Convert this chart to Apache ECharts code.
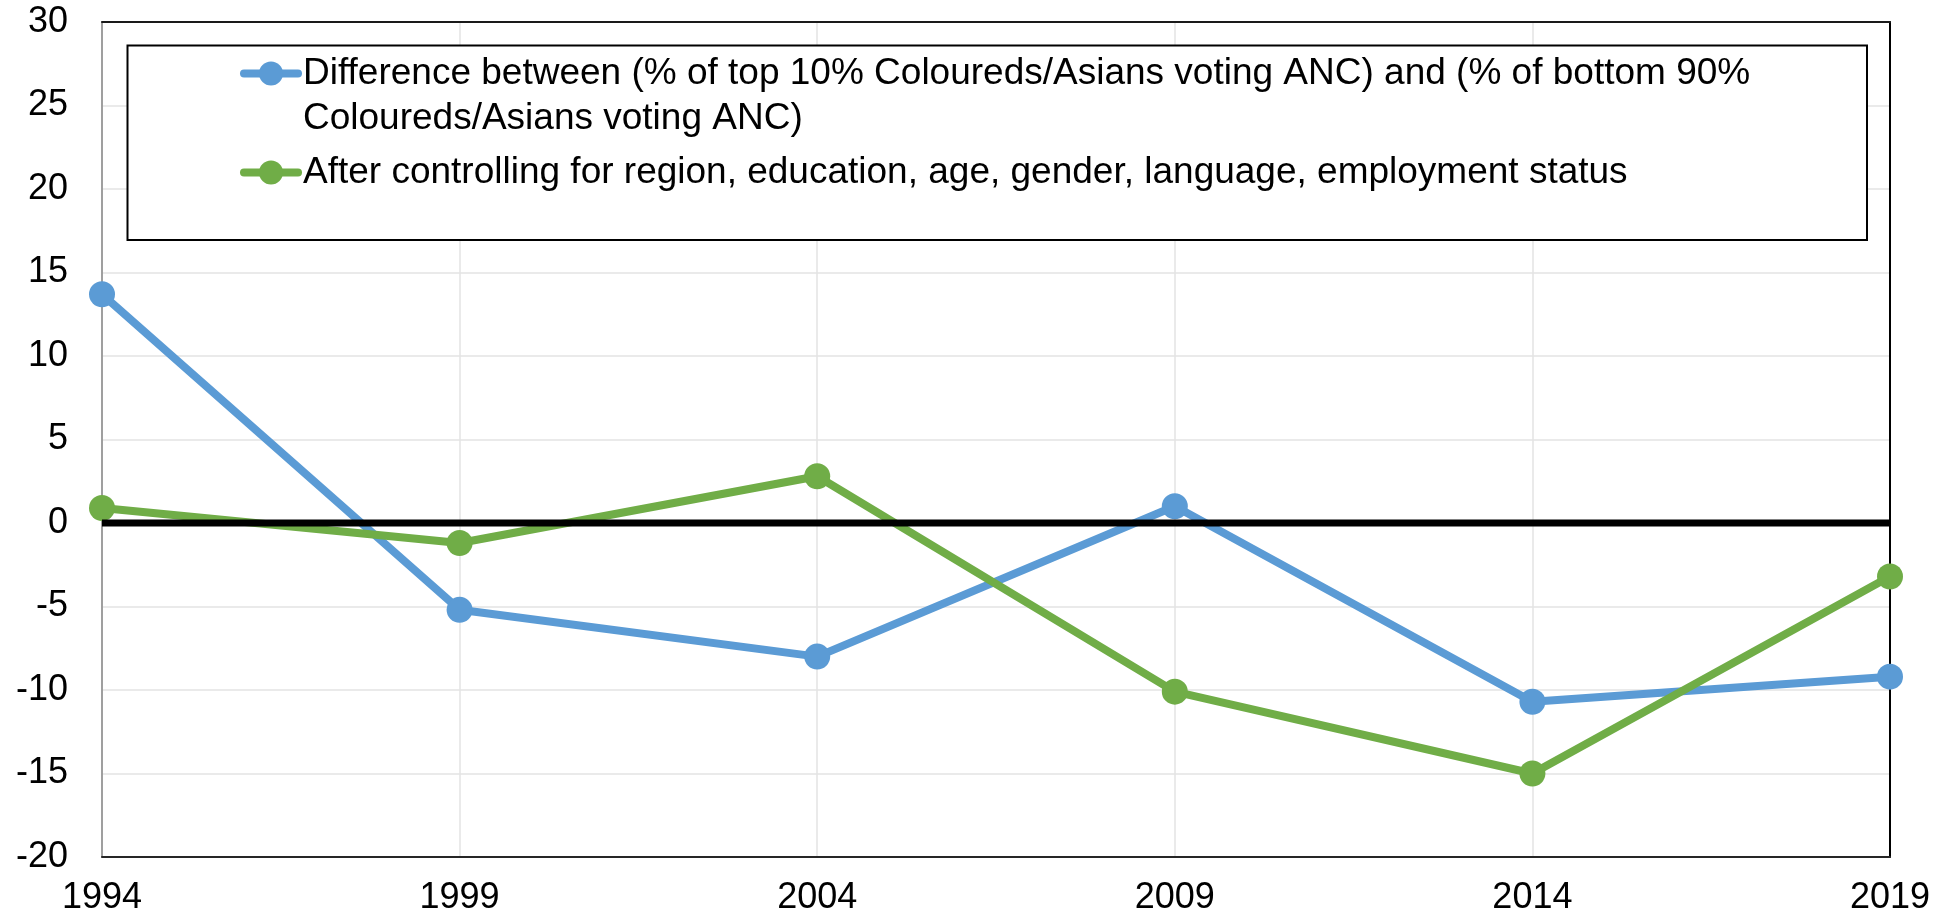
<!DOCTYPE html>
<html>
<head>
<meta charset="utf-8">
<script src="https://cdn.jsdelivr.net/npm/echarts@6/dist/echarts.min.js"></script>
<style>
html,body{margin:0;padding:0;background:#fff;}
#chart{width:1952px;height:919px;}
</style>
</head>
<body>
<div id="chart"></div>
<script>
const years = ['1994', '1999', '2004', '2009', '2014', '2019'];
const seriesNames = [
  'Difference between (% of top 10% Coloureds/Asians voting ANC) and (% of bottom 90% Coloureds/Asians voting ANC)',
  'After controlling for region, education, age, gender, language, employment status'
];
const rawDifference = [13.7, -5.2, -8.0, 1.0, -10.7, -9.2];
const afterControls = [0.9, -1.2, 2.8, -10.1, -15.0, -3.2];
const zeroLine = [0, 0, 0, 0, 0, 0];
const yMin = -20, yMax = 30, yStep = 5;

const FONT = '"Liberation Sans", Arial, sans-serif';
const chart = echarts.init(document.getElementById('chart'), null, {renderer: 'canvas'});

const legendCommon = {
  orient: 'vertical',
  left: 240,
  padding: 0,
  itemWidth: 54,
  itemHeight: 30,
  selectedMode: false,
  lineStyle: {width: 8, cap: 'round'},
  textStyle: {fontFamily: FONT, fontSize: 37, color: '#000', lineHeight: 45}
};

chart.setOption({
  animation: false,
  backgroundColor: '#fff',
  grid: {
    left: 102, right: 62, top: 22, bottom: 62
  },
  graphic: [{
    type: 'rect',
    shape: {x: 127.5, y: 45.5, width: 1739.5, height: 194.5},
    style: {fill: '#fff', stroke: '#000', lineWidth: 2},
    z: 5
  }],
  legend: [
    Object.assign({}, legendCommon, {
      top: 6,
      data: [seriesNames[0]],
      z: 10,
      formatter: function (name) {
        return '\n' + name.replace('bottom 90% ', 'bottom 90%\n');
      }
    }),
    Object.assign({}, legendCommon, {
      top: 150,
      z: 10,
      data: [seriesNames[1]]
    })
  ],
  xAxis: [
    {
      type: 'category',
      data: years,
      boundaryGap: false,
      axisLine: {show: true, onZero: false, lineStyle: {color: '#262626', width: 2}},
      axisTick: {show: false},
      axisLabel: {fontFamily: FONT, fontSize: 36, color: '#000', margin: 23},
      splitLine: {show: true, lineStyle: {color: '#E3E3E3', width: 1.5}}
    },
    {
      type: 'category',
      data: years,
      position: 'top',
      boundaryGap: false,
      axisLine: {show: true, onZero: false, lineStyle: {color: '#1a1a1a', width: 2}},
      axisTick: {show: false},
      axisLabel: {show: false},
      splitLine: {show: false}
    }
  ],
  yAxis: [
    {
      type: 'value',
      min: yMin, max: yMax, interval: yStep,
      axisLine: {show: true, onZero: false, lineStyle: {color: '#868686', width: 1.5}},
      axisTick: {show: false},
      axisLabel: {fontFamily: FONT, fontSize: 36, color: '#000', margin: 34},
      splitLine: {show: true, lineStyle: {color: '#E3E3E3', width: 1.5}}
    },
    {
      type: 'value',
      position: 'right',
      min: yMin, max: yMax, interval: yStep,
      axisLine: {show: true, onZero: false, lineStyle: {color: '#000', width: 2}},
      axisTick: {show: false},
      axisLabel: {show: false},
      splitLine: {show: false}
    }
  ],
  series: [
    {
      name: seriesNames[0],
      type: 'line',
      data: rawDifference,
      symbol: 'circle',
      symbolSize: 26,
      color: '#5B9BD5',
      lineStyle: {width: 8, color: '#5B9BD5'},
      itemStyle: {color: '#5B9BD5'},
      z: 2
    },
    {
      name: seriesNames[1],
      type: 'line',
      data: afterControls,
      symbol: 'circle',
      symbolSize: 26,
      color: '#70AD47',
      lineStyle: {width: 8, color: '#70AD47'},
      itemStyle: {color: '#70AD47'},
      z: 2
    },
    {
      name: 'zero',
      type: 'line',
      data: zeroLine,
      symbol: 'none',
      silent: true,
      lineStyle: {width: 7, color: '#000'},
      z: 3
    }
  ]
});
</script>
</body>
</html>
